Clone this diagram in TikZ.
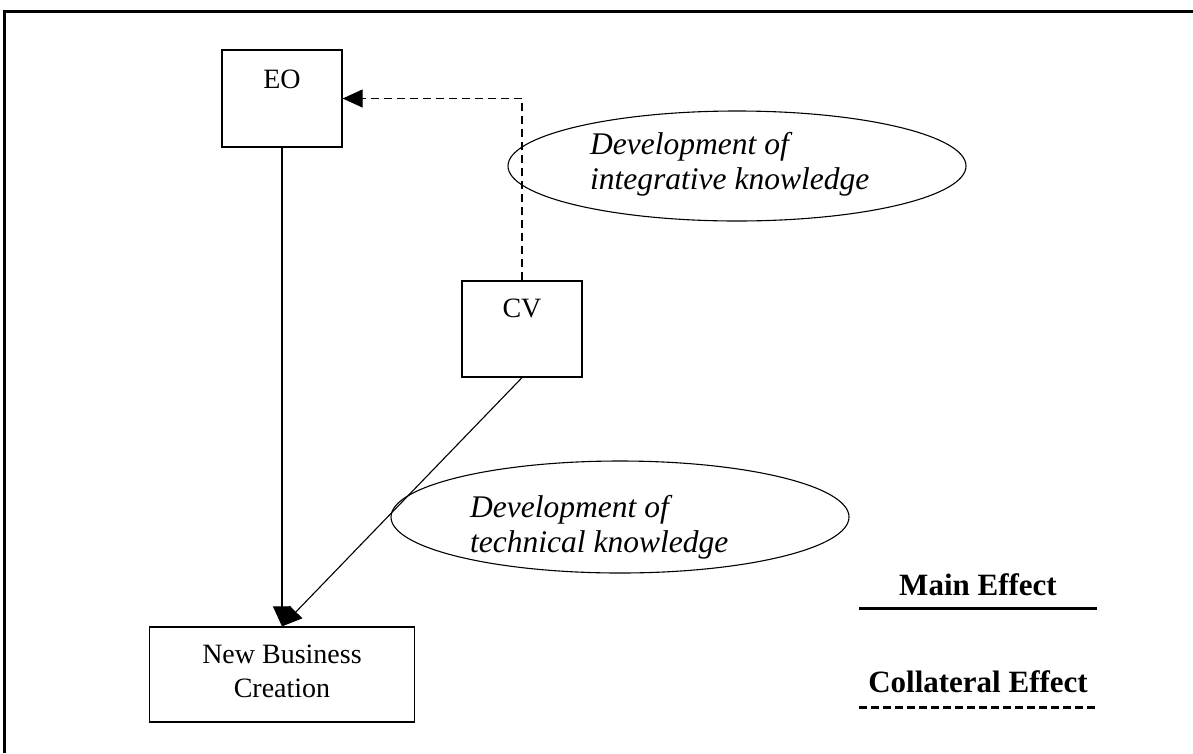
\documentclass[tikz,border=0pt]{standalone}
\usepackage{fontspec}
\setmainfont{Liberation Serif}
\usetikzlibrary{arrows.meta,shapes.geometric}
\tikzset{
  boxnode/.style={draw, line width=1.3pt, rectangle, inner sep=0pt},
  reg/.style={font=\fontsize{28}{34}\selectfont, inner sep=0pt},
  ital/.style={font=\itshape\fontsize{31.5}{35}\selectfont, inner sep=0pt, anchor=base west},
  boldtxt/.style={font=\bfseries\fontsize{31}{35}\selectfont, inner sep=0pt, anchor=base},
  oval/.style={draw, ellipse, line width=1.1pt, inner sep=0pt},
  conn/.style={line width=1.1pt},
  tip/.style={-{Triangle[length=20pt,width=18pt]}},
  frameline/.style={line width=3pt},
}
\begin{document}
\begin{tikzpicture}[x=1pt,y=-1pt]
\useasboundingbox (0,0) rectangle (1193,753);
% frame (top and left edges)
\coordinate (fbl) at (4,753);
\coordinate (ftl) at (4,11);
\coordinate (ftr) at (1193,11);
\draw[frameline] (fbl) -- (ftl) -- (ftr);

% boxes
\node[boxnode, minimum width=120pt, minimum height=97pt] (eo) at (282,98.5) {};
\node[reg, anchor=base] (eot) at (282,88) {EO};
\node[boxnode, minimum width=120pt, minimum height=96pt] (cv) at (522,329) {};
\node[reg, anchor=base] (cvt) at (522,317) {CV};
\node[boxnode, minimum width=265pt, minimum height=95pt] (nbc) at (282,674.5) {};
\node[reg, anchor=base] (nbc1) at (282,663) {New Business};
\node[reg, anchor=base] (nbc2) at (282,697) {Creation};

% ellipses
\node[oval, minimum width=458pt, minimum height=110pt] (e1) at (737,166) {};
\node[ital] (e1a) at (590,154) {Development of};
\node[ital] (e1b) at (590,189) {integrative knowledge};
\node[oval, minimum width=458pt, minimum height=112pt] (e2) at (620,517) {};
\node[ital] (e2a) at (470,517) {Development of};
\node[ital] (e2b) at (470,552) {technical knowledge};

% connectors
\draw[conn, tip] (eo.south) -- (nbc.north);
\draw[conn, tip] (cv.south) -- (nbc.north);
\draw[conn, tip, dash pattern=on 8pt off 5pt] (cv.north) |- (eo.east);

% legend
\node[boldtxt] (main) at (978,595) {Main Effect};
\coordinate (m1) at (859,608);
\coordinate (m2) at (1097,608);
\draw[line width=3pt] (m1) -- (m2);
\node[boldtxt] (coll) at (978,692) {Collateral Effect};
\coordinate (c1) at (859,707);
\coordinate (c2) at (1097,707);
\draw[line width=3pt, dash pattern=on 8pt off 4pt] (c1) -- (c2);
\end{tikzpicture}
\end{document}
